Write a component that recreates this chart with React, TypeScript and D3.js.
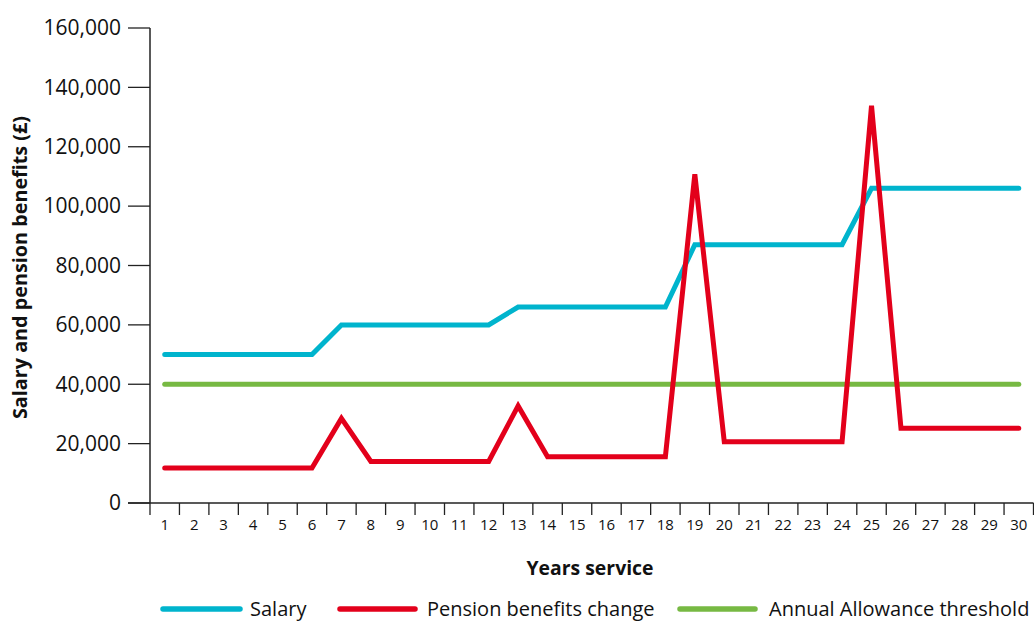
import React from "react";
import * as d3 from "d3";

// Years of service on the x axis
const years = d3.range(1, 31).map(String);

// Series values (£)
const salary = [
  50000, 50000, 50000, 50000, 50000, 50000,
  60000, 60000, 60000, 60000, 60000, 60000,
  66000, 66000, 66000, 66000, 66000, 66000,
  87000, 87000, 87000, 87000, 87000, 87000,
  106000, 106000, 106000, 106000, 106000, 106000,
];
const pension = [
  11800, 11800, 11800, 11800, 11800, 11800,
  28500, 14000, 14000, 14000, 14000, 14000,
  32700, 15600, 15600, 15600, 15600, 15600,
  110700, 20600, 20600, 20600, 20600, 20600,
  133800, 25200, 25200, 25200, 25200, 25200,
];
const allowance = years.map(() => 40000);

const yTicks = [0, 20000, 40000, 60000, 80000, 100000, 120000, 140000, 160000];

const series = [
  { name: "Salary", values: salary, color: "#00b4cd" },
  { name: "Pension benefits change", values: pension, color: "#e3001b" },
  { name: "Annual Allowance threshold", values: allowance, color: "#77b943" },
];

const width = 1034;
const height = 621;
const font = "'Open Sans', 'Noto Sans', sans-serif";

const App: React.FC = () => {
  const x = d3.scaleBand<string>().domain(years).range([150, 1033.5]);
  const y = d3.scaleLinear().domain([0, 160000]).range([503, 28]);
  const fmt = d3.format(",");

  const line = d3
    .line<number>()
    .x((_, i) => (x(years[i]) ?? 0) + x.bandwidth() / 2)
    .y((d) => y(d));

  // allowance underneath, then salary, then pension on top
  const drawOrder = [series[2], series[0], series[1]];

  const legendPos = [
    { x1: 163, x2: 240, tx: 250 },
    { x1: 340, x2: 415, tx: 427 },
    { x1: 680, x2: 755, tx: 769 },
  ];

  return (
    <svg
      width={width}
      height={height}
      style={{ position: "absolute", left: 0, top: 0, background: "#fff" }}
      fontFamily={font}
    >
      {/* y axis */}
      <line x1={150} x2={150} y1={y(160000)} y2={y(0)} stroke="#222" strokeWidth={1.5} />
      {yTicks.map((t) => (
        <g key={t}>
          <line x1={128} x2={150} y1={y(t)} y2={y(t)} stroke="#222" strokeWidth={1.3} />
          <text x={121} y={y(t)} dy="0.35em" textAnchor="end" fontSize={21} fill="#111">
            {fmt(t)}
          </text>
        </g>
      ))}
      <text
        transform={`translate(27,${(y(0) + y(160000)) / 2 + 2}) rotate(-90)`}
        textAnchor="middle"
        fontSize={19.8}
        fontWeight="bold"
        fill="#111"
      >
        Salary and pension benefits (£)
      </text>

      {/* x axis */}
      <line x1={128} x2={1033.5} y1={y(0)} y2={y(0)} stroke="#222" strokeWidth={1.5} />
      {years.map((yr) => (
        <g key={yr}>
          <line
            x1={x(yr)! + x.bandwidth()}
            x2={x(yr)! + x.bandwidth()}
            y1={y(0)}
            y2={y(0) + 12}
            stroke="#222"
            strokeWidth={1.3}
          />
          <text
            x={x(yr)! + x.bandwidth() / 2}
            y={y(0) + 27}
            textAnchor="middle"
            fontSize={15}
            fill="#111"
          >
            {yr}
          </text>
        </g>
      ))}
      <line x1={150} x2={150} y1={y(0)} y2={y(0) + 12} stroke="#222" strokeWidth={1.3} />
      <text x={590} y={575} textAnchor="middle" fontSize={19.4} fontWeight="bold" fill="#111">
        Years service
      </text>

      {/* series */}
      {drawOrder.map((s) => (
        <path
          key={s.name}
          d={line(s.values) ?? ""}
          fill="none"
          stroke={s.color}
          strokeWidth={5}
          strokeLinecap="round"
          strokeLinejoin="miter"
        />
      ))}

      {/* legend */}
      {series.map((s, i) => (
        <g key={s.name}>
          <line
            x1={legendPos[i].x1}
            x2={legendPos[i].x2}
            y1={609}
            y2={609}
            stroke={s.color}
            strokeWidth={5.5}
            strokeLinecap="round"
          />
          <text x={legendPos[i].tx} y={609} dy="0.35em" fontSize={20} fill="#111">
            {s.name}
          </text>
        </g>
      ))}
    </svg>
  );
};

export default App;
